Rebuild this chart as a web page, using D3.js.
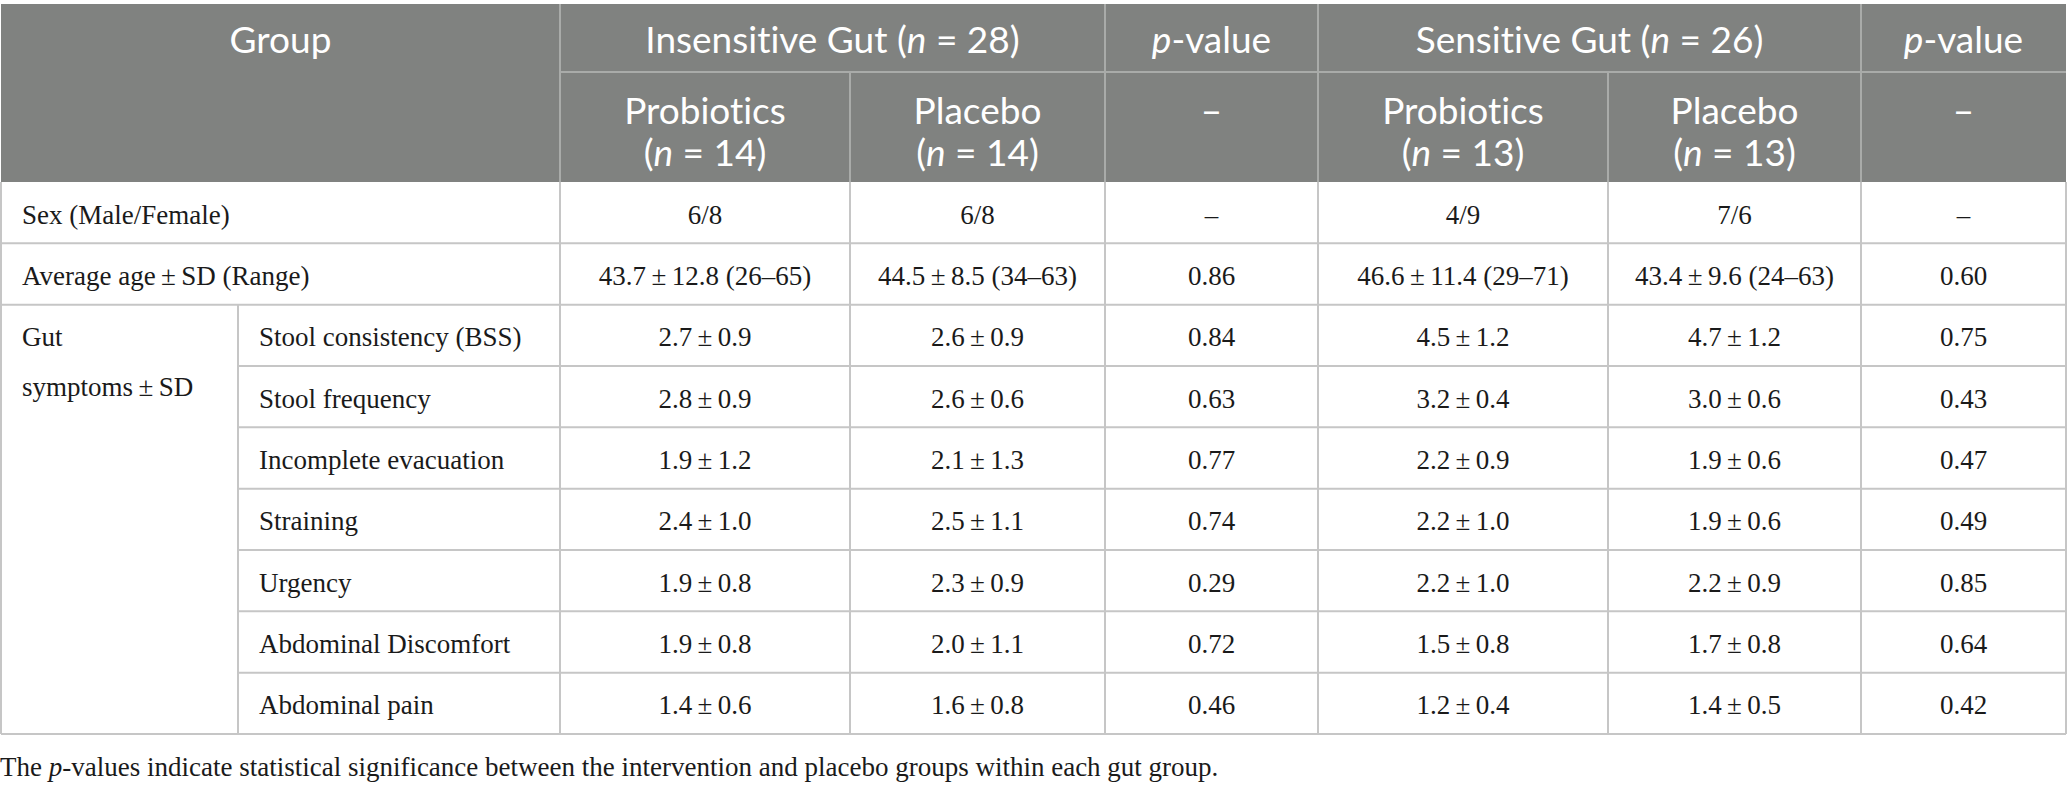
<!DOCTYPE html>
<html>
<head>
<meta charset="utf-8">
<script src="https://cdn.jsdelivr.net/npm/d3@7"></script>
<style>
  body { margin: 0; background: #fff; }
  svg { display: block; }
  text { font-variant-ligatures: none; }
</style>
</head>
<body>
<div id="chart"></div>
<script>
// ---- data ----
const gutGroups = ["Insensitive Gut", "Sensitive Gut"];
const gutN = [28, 26];
const armNames = ["Probiotics", "Placebo"];
const armN = [14, 14, 13, 13];

const sexRow = ["6/8", "6/8", "\u2013", "4/9", "7/6", "\u2013"];
const ageMean = [43.7, 44.5, 46.6, 43.4];
const ageSd = [12.8, 8.5, 11.4, 9.6];
const ageRange = ["26\u201365", "34\u201363", "29\u201371", "24\u201363"];
const agePvals = [0.86, 0.60];

const symptoms = ["Stool consistency (BSS)", "Stool frequency", "Incomplete evacuation",
  "Straining", "Urgency", "Abdominal Discomfort", "Abdominal pain"];
const insProbMean = [2.7, 2.8, 1.9, 2.4, 1.9, 1.9, 1.4];
const insProbSd   = [0.9, 0.9, 1.2, 1.0, 0.8, 0.8, 0.6];
const insPlacMean = [2.6, 2.6, 2.1, 2.5, 2.3, 2.0, 1.6];
const insPlacSd   = [0.9, 0.6, 1.3, 1.1, 0.9, 1.1, 0.8];
const insP        = [0.84, 0.63, 0.77, 0.74, 0.29, 0.72, 0.46];
const senProbMean = [4.5, 3.2, 2.2, 2.2, 2.2, 1.5, 1.2];
const senProbSd   = [1.2, 0.4, 0.9, 1.0, 1.0, 0.8, 0.4];
const senPlacMean = [4.7, 3.0, 1.9, 1.9, 2.2, 1.7, 1.4];
const senPlacSd   = [1.2, 0.6, 0.6, 0.6, 0.9, 0.8, 0.5];
const senP        = [0.75, 0.43, 0.47, 0.49, 0.85, 0.64, 0.42];

const footnote = ["The ", "p", "-values indicate statistical significance between the intervention and placebo groups within each gut group."];

// ---- layout ----
const width = 2067, height = 787;
const colEdges = [1, 238, 560, 850, 1105, 1318, 1608, 1861, 2066];
const headTop = 4, headMid = 72, headBot = 182, tableBot = 734;
const headBg = "#808280", headLine = "#a9aba9", gridLine = "#c6c6c6";
const sansFont = "Lato, 'Open Sans', sans-serif";
const serifFont = "'Liberation Serif', 'DejaVu Serif', serif";
const headSize = 37, bodySize = 27;

const f1 = d3.format(".1f"), f2 = d3.format(".2f");
const pm = (m, s) => `${f1(m)}\u2009\u00b1\u2009${f1(s)}`;

const rowKeys = ["sex", "age"].concat(symptoms);
const y = d3.scaleBand().domain(rowKeys).range([headBot, tableBot]);

const svg = d3.select("#chart").append("svg")
  .attr("width", width).attr("height", height);

// header background
svg.append("rect")
  .attr("x", colEdges[0]).attr("y", headTop)
  .attr("width", colEdges[8] - colEdges[0]).attr("height", headBot - headTop)
  .attr("fill", headBg);

const head = svg.append("g").attr("stroke", headLine).attr("stroke-width", 2);
// line between header rows (not under Group)
head.append("line").attr("x1", colEdges[2]).attr("x2", colEdges[8])
  .attr("y1", headMid).attr("y2", headMid);
// full-height header verticals
[2, 4, 5, 7].forEach(i => head.append("line")
  .attr("x1", colEdges[i]).attr("x2", colEdges[i])
  .attr("y1", headTop).attr("y2", headBot));
// sub-column verticals
[3, 6].forEach(i => head.append("line")
  .attr("x1", colEdges[i]).attr("x2", colEdges[i])
  .attr("y1", headMid).attr("y2", headBot));

const cx = (a, b) => (colEdges[a] + colEdges[b]) / 2;

function headText(x, yy, parts) {
  const t = svg.append("text")
    .attr("x", x).attr("y", yy)
    .attr("text-anchor", "middle")
    .attr("font-family", sansFont).attr("font-size", headSize)
    .attr("fill", "#fff");
  parts.forEach(p => t.append("tspan")
    .attr("font-style", p[1] ? "italic" : null).text(p[0]));
}

const h1 = 53;
headText(cx(0, 2), h1, [["Group"]]);
gutGroups.forEach((g, i) => {
  const a = i === 0 ? 2 : 5;
  headText(cx(a, a + 2), h1, [[g + " ("], ["n", true], [" = " + gutN[i] + ")"]]);
  headText(cx(a + 2, a + 3), h1, [["p", true], ["-value"]]);
  headText(cx(a + 2, a + 3), 124, [["\u2013"]]);
  armNames.forEach((arm, j) => {
    headText(cx(a + j, a + j + 1), 124, [[arm]]);
    headText(cx(a + j, a + j + 1), 166, [["("], ["n", true], [" = " + armN[i * 2 + j] + ")"]]);
  });
});

// body grid
const grid = svg.append("g").attr("stroke", gridLine).attr("stroke-width", 2).attr("fill", "none");
rowKeys.forEach((k, i) => {
  if (i === 0) return;
  const x0 = i >= 3 ? colEdges[1] : colEdges[0];
  grid.append("line").attr("x1", x0).attr("x2", colEdges[8])
    .attr("y1", y(k)).attr("y2", y(k));
});
grid.append("line").attr("x1", colEdges[0]).attr("x2", colEdges[8])
  .attr("y1", tableBot).attr("y2", tableBot);
[0, 2, 3, 4, 5, 6, 7, 8].forEach(i => grid.append("line")
  .attr("x1", colEdges[i]).attr("x2", colEdges[i])
  .attr("y1", headBot).attr("y2", tableBot));
grid.append("line").attr("x1", colEdges[1]).attr("x2", colEdges[1])
  .attr("y1", y(symptoms[0])).attr("y2", tableBot);

// body text
const body = svg.append("g")
  .attr("font-family", serifFont).attr("font-size", bodySize).attr("fill", "#1a1a1a");
const midY = k => y(k) + y.bandwidth() / 2 + 11;

function cells(k, vals) {
  vals.forEach((v, i) => body.append("text")
    .attr("x", cx(i + 2, i + 3)).attr("y", midY(k))
    .attr("text-anchor", "middle").text(v));
}

body.append("text").attr("x", colEdges[0] + 21).attr("y", midY("sex")).text("Sex (Male/Female)");
cells("sex", sexRow);
body.append("text").attr("x", colEdges[0] + 21).attr("y", midY("age"))
  .text("Average age\u2009\u00b1\u2009SD (Range)");
cells("age", [
  `${pm(ageMean[0], ageSd[0])} (${ageRange[0]})`,
  `${pm(ageMean[1], ageSd[1])} (${ageRange[1]})`,
  f2(agePvals[0]),
  `${pm(ageMean[2], ageSd[2])} (${ageRange[2]})`,
  `${pm(ageMean[3], ageSd[3])} (${ageRange[3]})`,
  f2(agePvals[1])
]);

body.append("text").attr("x", colEdges[0] + 21).attr("y", midY(symptoms[0])).text("Gut");
body.append("text").attr("x", colEdges[0] + 21).attr("y", midY(symptoms[0]) + 50)
  .text("symptoms\u2009\u00b1\u2009SD");

symptoms.forEach((s, i) => {
  body.append("text").attr("x", colEdges[1] + 21).attr("y", midY(s)).text(s);
  cells(s, [
    pm(insProbMean[i], insProbSd[i]),
    pm(insPlacMean[i], insPlacSd[i]),
    f2(insP[i]),
    pm(senProbMean[i], senProbSd[i]),
    pm(senPlacMean[i], senPlacSd[i]),
    f2(senP[i])
  ]);
});

// footnote
const fn = body.append("text").attr("x", 0).attr("y", 776);
footnote.forEach((p, i) => fn.append("tspan")
  .attr("font-style", i === 1 ? "italic" : null).text(p));
</script>
</body>
</html>
